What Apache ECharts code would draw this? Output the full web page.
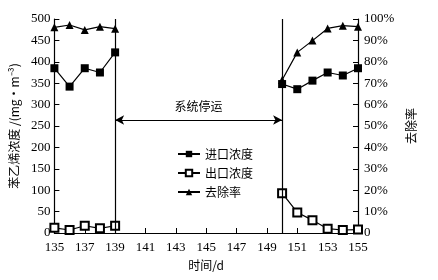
<!DOCTYPE html>
<html><head><meta charset="utf-8">
<script src="https://cdn.jsdelivr.net/npm/echarts@6/dist/echarts.min.js"></script>
<style>html,body{margin:0;padding:0;background:#fff}#c{width:438px;height:280px}</style>
</head><body><div id="c"></div>
<script>
const daysA = [135, 136, 137, 138, 139];
const daysB = [150, 151, 152, 153, 154, 155];
const inletA = [385, 342, 385, 375, 422];
const inletB = [348, 336, 356, 375, 368, 385];
const outletA = [12, 7, 17, 11, 17];
const outletB = [93, 48, 30, 10, 7, 8];
const removalA = [96.1, 97.2, 94.9, 96.4, 95.5];
const removalB = [71.5, 84.4, 89.9, 95.6, 96.9, 96.4];
const stopStart = 139, stopEnd = 150, arrowLevel = 264;
const stopLabel = '系统停运';

function pairs(a, b, va, vb) {
  const out = daysA.map((d, i) => [d, va[i]]);
  out.push([(stopStart + stopEnd) / 2, '-']);
  return out.concat(daysB.map((d, i) => [d, vb[i]]));
}
const serif = '"Liberation Serif","Noto Sans CJK SC",serif';
const cjk = '"Noto Sans CJK SC","Liberation Serif",serif';
const chart = echarts.init(document.getElementById('c'));
const lineS = {color: '#000', width: 1.2};
chart.setOption({
  animation: false,
  grid: {left: 54, right: 80, top: 19, bottom: 47},
  legend: {
    orient: 'vertical', left: 172, top: 143, itemWidth: 22, itemHeight: 8, itemGap: 7,
    textStyle: {fontFamily: cjk, fontSize: 12, color: '#000'},
    data: ['进口浓度', '出口浓度', '去除率']
  },
  xAxis: {
    type: 'value', min: 135, max: 155, interval: 2,
    name: '时间/d', nameLocation: 'middle', nameGap: 26,
    nameTextStyle: {fontFamily: cjk, fontSize: 12, color: '#000'},
    axisLine: {lineStyle: {color: '#000', width: 1.2}},
    axisTick: {inside: true, length: 5, lineStyle: {color: '#000'}},
    axisLabel: {fontFamily: serif, fontSize: 13, color: '#000', margin: 8},
    splitLine: {show: false}
  },
  yAxis: [{
    type: 'value', min: 0, max: 500, interval: 50,
    name: '苯乙烯浓度 /(mg·m⁻³)', nameLocation: 'middle', nameGap: 33,
    nameTextStyle: {fontFamily: cjk, fontSize: 12, color: '#000'},
    axisLine: {show: true, lineStyle: {color: '#000', width: 1.2}},
    axisTick: {show: true, inside: true, length: 5, lineStyle: {color: '#000'}},
    axisLabel: {fontFamily: serif, fontSize: 13, color: '#000', margin: 4},
    splitLine: {show: false}
  }, {
    type: 'value', min: 0, max: 100, interval: 10, position: 'right',
    name: '去除率', nameLocation: 'middle', nameGap: 46, nameRotate: 90,
    nameTextStyle: {fontFamily: cjk, fontSize: 12, color: '#000'},
    axisLine: {show: true, lineStyle: {color: '#000', width: 1.2}},
    axisTick: {show: true, inside: true, length: 5, lineStyle: {color: '#000'}},
    axisLabel: {fontFamily: serif, fontSize: 13, color: '#000', margin: 6,
      formatter: v => v === 0 ? '0' : v + '%'},
    splitLine: {show: false}
  }],
  series: [{
    name: '进口浓度', type: 'line', yAxisIndex: 0,
    data: pairs(daysA, daysB, inletA, inletB),
    symbol: 'rect', symbolSize: 8, itemStyle: {color: '#000'}, lineStyle: lineS,
    markLine: {
      silent: true, symbol: 'none', animation: false,
      lineStyle: {color: '#000', width: 1.2, type: 'solid'}, label: {show: false},
      data: [{xAxis: stopStart}, {xAxis: stopEnd}]
    }
  }, {
    name: '出口浓度', type: 'line', yAxisIndex: 0,
    data: pairs(daysA, daysB, outletA, outletB),
    symbol: 'emptyRect', symbolSize: 8,
    itemStyle: {color: '#000', borderColor: '#000', borderWidth: 1.5}, lineStyle: lineS,
    markLine: {
      silent: true, symbol: ['arrow', 'arrow'], symbolSize: [7, 9], animation: false,
      lineStyle: {color: '#000', width: 1.2, type: 'solid'},
      label: {show: true, position: 'insideMiddleTop', distance: 8, formatter: stopLabel,
        fontFamily: cjk, fontSize: 12, color: '#000'},
      data: [[{coord: [stopStart, arrowLevel]}, {coord: [stopEnd, arrowLevel]}]]
    }
  }, {
    name: '去除率', type: 'line', yAxisIndex: 1,
    data: pairs(daysA, daysB, removalA, removalB),
    symbol: 'triangle', symbolSize: 8, itemStyle: {color: '#000'}, lineStyle: lineS
  }]
});
</script></body></html>
